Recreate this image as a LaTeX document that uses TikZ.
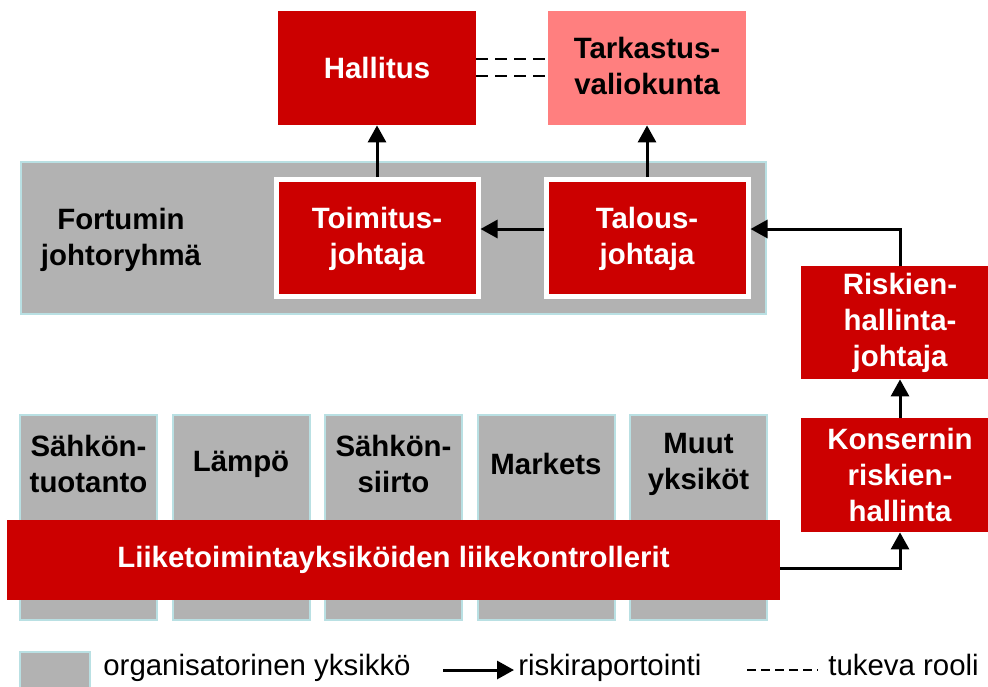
\documentclass[tikz,border=0pt]{standalone}
\usepackage{fontspec}
\setmainfont{Liberation Sans}
\usetikzlibrary{arrows.meta,positioning}
\definecolor{fortumRed}{HTML}{CC0000}
\definecolor{fortumPink}{HTML}{FF7F7F}
\definecolor{fortumGrey}{HTML}{B2B2B2}
\definecolor{fortumEdge}{HTML}{B9E0E3}

\begin{document}
\begin{tikzpicture}[
  x=0.5pt, y=-0.5pt,
  font=\fontsize{14.7}{18}\selectfont\bfseries,
  organ/.style={fill=fortumRed, text=white, minimum width=99pt, minimum height=57pt, inner sep=0pt, align=center},
  audit/.style={organ, fill=fortumPink, text=black},
  exec/.style={organ, draw=white, line width=2.5pt, minimum width=101pt, minimum height=58.5pt},
  group/.style={draw=fortumEdge, line width=1pt, fill=fortumGrey, inner sep=0pt},
  unit/.style={group, minimum width=68.5pt, minimum height=102.5pt},
  unitlabel/.style={align=center, inner sep=0pt},
  arrow/.style={-{Triangle[length=8.5pt,width=9pt]}, line width=1.5pt},
  support/.style={dash pattern=on 6pt off 3.5pt, line width=1pt},
  legendtext/.style={font=\fontsize{14.7}{17.5}\selectfont, inner sep=2pt, anchor=west, text height=0.75em, text depth=0.2em}
]
  \path[use as bounding box, clip] (0,0) rectangle (988,686);

  % top level
  \node[organ] (hallitus) at (377,68) {Hallitus};
  \node[audit, text depth=0.25em] (tarkastus) at (647,68) {Tarkastus-\\valiokunta};

  % management group
  \node[group, minimum width=372.5pt, minimum height=76pt] (johto) at (393.5,238) {};
  \node[unitlabel] (johtolabel) at (121,240) {Fortumin\\johtoryhmä};
  \node[exec, text depth=0.25em] (toimitus) at (377,238) {Toimitus-\\johtaja};
  \node[exec, text depth=0.25em] (talous) at (647,238) {Talous-\\johtaja};

  % risk management
  \node[organ, minimum height=56.5pt] (riski) at (900,322.5) {Riskien-\\hallinta-\\johtaja};
  \node[organ] (konserni) at (900,475) {Konsernin\\riskien-\\hallinta};

  % business units
  \foreach \i/\x/\name in {1/88.5/{Sähkön-\\tuotanto}, 2/241/Lämpö, 3/393.5/{Sähkön-\\siirto}, 4/546/Markets, 5/698.5/{Muut\\yksiköt}} {
    \node[unit] (u\i) at (\x,517.5) {};
    \node[unitlabel] (ul\i) at (\x,464) {\name};
  }
  \node[organ, minimum width=386.5pt, minimum height=40pt] (kontrollerit) at (393.5,560) {Liiketoimintayksiköiden liikekontrollerit};

  % reporting lines
  \draw[arrow] (toimitus) -- (hallitus);
  \draw[arrow] (talous) -- (tarkastus);
  \draw[arrow] ([yshift=4.5pt]talous.west) -- ([yshift=4.5pt]toimitus.east);
  \draw[arrow] (riski.north) |- ([yshift=4.5pt]talous.east);
  \draw[arrow] (konserni) -- (riski);
  \draw[arrow] ([yshift=-4pt]kontrollerit.east) -| (konserni.south);
  \draw[support] ([yshift=4.5pt]hallitus.east) -- ([yshift=4.5pt]tarkastus.west);
  \draw[support] ([yshift=-4pt]hallitus.east) -- ([yshift=-4pt]tarkastus.west);

  % legend
  \node[group, minimum width=35pt, minimum height=24pt] (lbox) at (55,676) {};
  \node[legendtext] (lorg) at (99,670) {organisatorinen yksikkö};
  \coordinate (larrow) at (443,670);
  \node[legendtext] (lrisk) at (514,670) {riskiraportointi};
  \draw[arrow] (larrow) -- (lrisk.west);
  \coordinate (ldash) at (747,670);
  \node[legendtext] (ltuki) at (824,670) {tukeva rooli};
  \draw[support, dash pattern=on 4.5pt off 2.5pt, line width=0.8pt, shorten >=3pt] (ldash) -- (ltuki.west);
\end{tikzpicture}
\end{document}
